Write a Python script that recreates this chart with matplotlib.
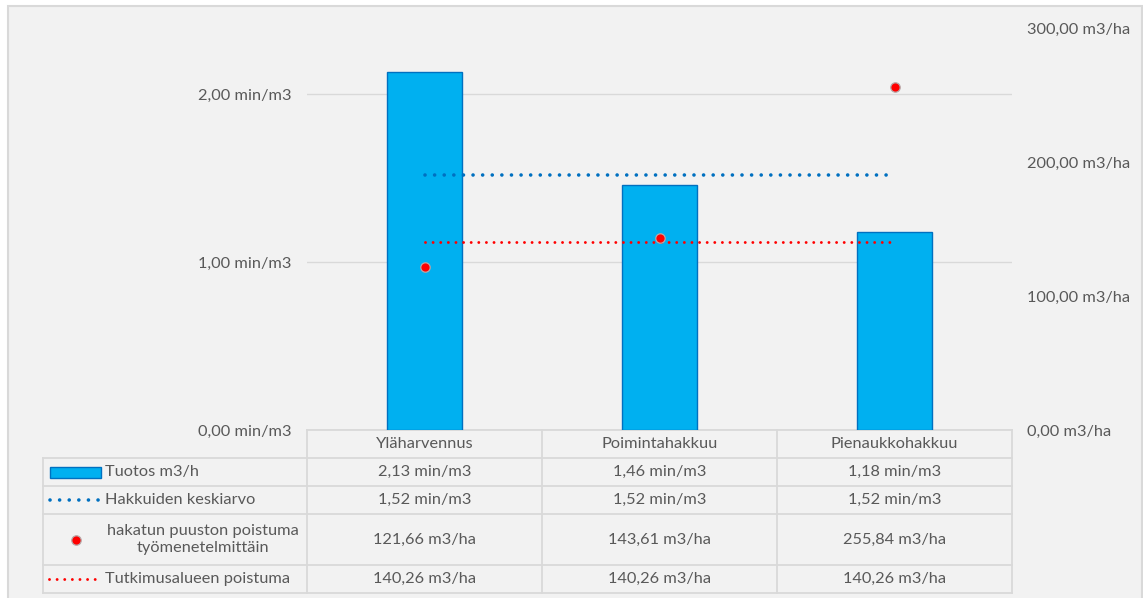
import matplotlib.pyplot as plt
from matplotlib.patches import Rectangle

plt.rcParams['font.family'] = ['Lato', 'DejaVu Sans']

categories = ["Yläharvennus", "Poimintahakkuu", "Pienaukkohakkuu"]
tuotos = [2.13, 1.46, 1.18]
keskiarvo = [1.52, 1.52, 1.52]
poistuma = [121.66, 143.61, 255.84]
alue_poistuma = [140.26, 140.26, 140.26]
series_names = ["Tuotos m3/h", "Hakkuiden keskiarvo",
                "hakatun puuston poistuma\ntyömenetelmittäin",
                "Tutkimusalueen poistuma"]
series_units = ["min/m3", "min/m3", "m3/ha", "m3/ha"]
left_ticks = [0, 1, 2]
right_ticks = [0, 100, 200, 300]

W, H = 1143, 598
TXT = '#595959'
GRID = '#d9d9d9'
BAR = '#00b0f0'
BLUE = '#0070c0'
RED = '#ff0000'
FS = 11.8


def fmt(v, unit):
    return f"{v:.2f}".replace(".", ",") + " " + unit


fig = plt.figure(figsize=(W / 100, H / 100), dpi=100)
fig.patch.set_facecolor('white')

# background + data table, in pixel coordinates
bg = fig.add_axes([0, 0, 1, 1], zorder=-1)
bg.set_xlim(0, W)
bg.set_ylim(H, 0)
bg.axis('off')
bg.add_patch(Rectangle((8, 6), 1133.5, 620, fc='#f2f2f2', ec=GRID, lw=1.5))

# plot area
x0, x1, y0, y1 = 307, 1012, 28, 430
ax = fig.add_axes([x0 / W, 1 - y1 / H, (x1 - x0) / W, (y1 - y0) / H])
ax.set_facecolor('none')
ax.set_xlim(-0.5, 2.5)
ax.set_ylim(0, (y1 - y0) / 168)
xs = list(range(len(categories)))

blue_ls = dict(lw=2.6, linestyle=(0, (0.01, 2.65)), dash_capstyle='round')
red_ls = dict(lw=2.1, linestyle=(0, (0.01, 2.6)), dash_capstyle='round')
dot = dict(s=46, color=RED, edgecolor='#b8a8a8', lw=0.9)

ax.bar(xs, tuotos, width=0.315, color=BAR, edgecolor=BLUE, lw=1, zorder=2)
ax.plot(xs, keskiarvo, color=BLUE, zorder=3, **blue_ls)

ax.set_yticks(left_ticks)
ax.set_yticklabels([fmt(t, "min/m3") for t in left_ticks])
ax.set_xticks([])
ax.yaxis.grid(True, color=GRID, lw=1)
ax.set_axisbelow(True)
ax.tick_params(axis='y', length=0, pad=11.5, labelsize=FS, labelcolor=TXT)
for s in ax.spines.values():
    s.set_visible(False)

ax2 = ax.twinx()
ax2.set_ylim(0, 300)
ax2.plot(xs, alue_poistuma, color=RED, zorder=3, **red_ls)
ax2.scatter(xs, poistuma, zorder=4, **dot)
ax2.set_yticks(right_ticks)
ax2.set_yticklabels([fmt(t, "m3/ha") for t in right_ticks])
ax2.tick_params(axis='y', length=0, pad=10.8, labelsize=FS, labelcolor=TXT)
for s in ax2.spines.values():
    s.set_visible(False)

# data table
col_w = (x1 - x0) / len(categories)
col_edges = [x0 + i * col_w for i in range(len(categories) + 1)]
rows = [430, 458, 486, 514, 565, 593]
tl = 43
lw_t = 1.3
bg.plot([x0, x1], [rows[0], rows[0]], color=GRID, lw=lw_t)
for r in rows[1:]:
    bg.plot([tl, x1], [r, r], color=GRID, lw=lw_t)
bg.plot([tl, tl], [rows[1], rows[-1]], color=GRID, lw=lw_t)
for c in col_edges:
    bg.plot([c, c], [rows[0], rows[-1]], color=GRID, lw=lw_t)

for i, cat in enumerate(categories):
    cx = x0 + (i + 0.5) * col_w
    bg.text(cx, (rows[0] + rows[1]) / 2, cat, ha='center', va='center',
            fontsize=FS, color=TXT)

values = [tuotos, keskiarvo, poistuma, alue_poistuma]
for r, (vals, unit) in enumerate(zip(values, series_units)):
    cy = (rows[r + 1] + rows[r + 2]) / 2
    for i, v in enumerate(vals):
        cx = x0 + (i + 0.5) * col_w
        bg.text(cx, cy, fmt(v, unit), ha='center', va='center',
                fontsize=FS, color=TXT)

# legend keys + series names
cy = [(rows[r] + rows[r + 1]) / 2 for r in range(1, 5)]
bg.add_patch(Rectangle((50, cy[0] - 5.5), 51, 11, fc=BAR, ec=BLUE, lw=1))
bg.plot([50, 99], [cy[1], cy[1]], color=BLUE, **blue_ls)
bg.scatter([76], [cy[2]], **dot)
bg.plot([49, 99], [cy[3], cy[3]], color=RED, **red_ls)
for r, name in enumerate(series_names):
    if "\n" in name:
        bg.text(203, cy[r], name, ha='center', va='center', fontsize=FS,
                color=TXT, linespacing=1.3)
    else:
        bg.text(105, cy[r], name, ha='left', va='center', fontsize=FS, color=TXT)

fig.savefig('out.png', dpi=100)
